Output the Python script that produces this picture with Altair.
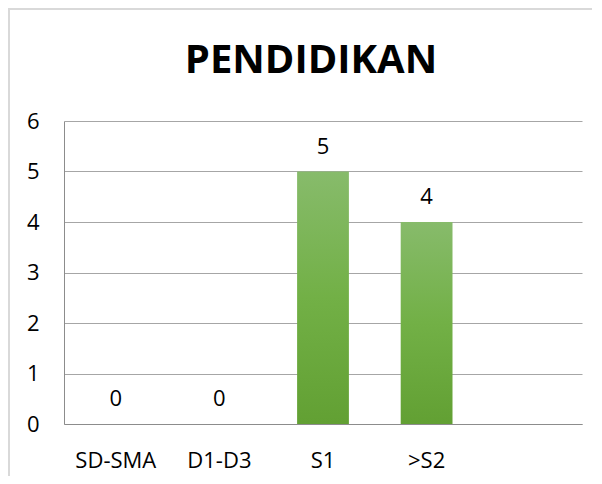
import altair as alt
import pandas as pd

categories = ["SD-SMA", "D1-D3", "S1", ">S2"]
values = [0, 0, 5, 4]
axis_domain = categories + [""]
y_ticks = [0, 1, 2, 3, 4, 5, 6]
title_text = "PENDIDIKAN"

df = pd.DataFrame({"kategori": categories, "jumlah": values})

FONT = "Open Sans"

x_enc = alt.X(
    "kategori:N",
    sort=axis_domain,
    scale=alt.Scale(domain=axis_domain, paddingInner=0.5, paddingOuter=0.25),
    axis=alt.Axis(
        title=None, labelAngle=0, ticks=False, labelPadding=26,
        labelFont=FONT, labelFontSize=22, labelColor="#000000",
        domainColor="#8c8c8c", domainWidth=1, grid=False,
    ),
)
y_enc = alt.Y(
    "jumlah:Q",
    scale=alt.Scale(domain=[0, 6], nice=False),
    axis=alt.Axis(
        title=None, values=y_ticks, ticks=False, labelPadding=25,
        labelFont=FONT, labelFontSize=22, labelColor="#000000",
        domainColor="#8c8c8c", domainWidth=1,
        grid=True, gridColor="#a6a6a6", gridWidth=1,
    ),
)

gradient = alt.Gradient(
    gradient="linear",
    stops=[
        alt.GradientStop(color="#87bb6b", offset=0),
        alt.GradientStop(color="#72b046", offset=0.5),
        alt.GradientStop(color="#62a033", offset=1),
    ],
    x1=1, x2=1, y1=0, y2=1,
)

bars = alt.Chart(df).mark_bar(color=gradient).encode(x=x_enc, y=y_enc)

labels = alt.Chart(df).mark_text(
    font=FONT, fontSize=22, color="#000000", baseline="alphabetic", dy=-18
).encode(x=alt.X("kategori:N", sort=axis_domain), y="jumlah:Q", text="jumlah:Q")

frame = alt.Chart(df).mark_rect(
    fill=None, stroke="#d9d9d9", strokeWidth=1.5
).encode(
    x=alt.value(-55), x2=alt.value(560), y=alt.value(-112), y2=alt.value(380)
)

chart = alt.layer(frame, bars, labels).properties(
    width=518,
    height=303,
    padding={"left": 56, "top": 113, "right": 10, "bottom": 52},
    autosize=alt.AutoSizeParams(type="none"),
    title=alt.TitleParams(
        text=title_text, font=FONT, fontSize=40, fontWeight="bold",
        color="#000000", anchor="middle", frame="group", dx=-12,
        baseline="alphabetic", offset=-105,
    ),
).configure_view(stroke=None)

chart.save("out.html", embed_options={"renderer": "svg", "actions": False})
